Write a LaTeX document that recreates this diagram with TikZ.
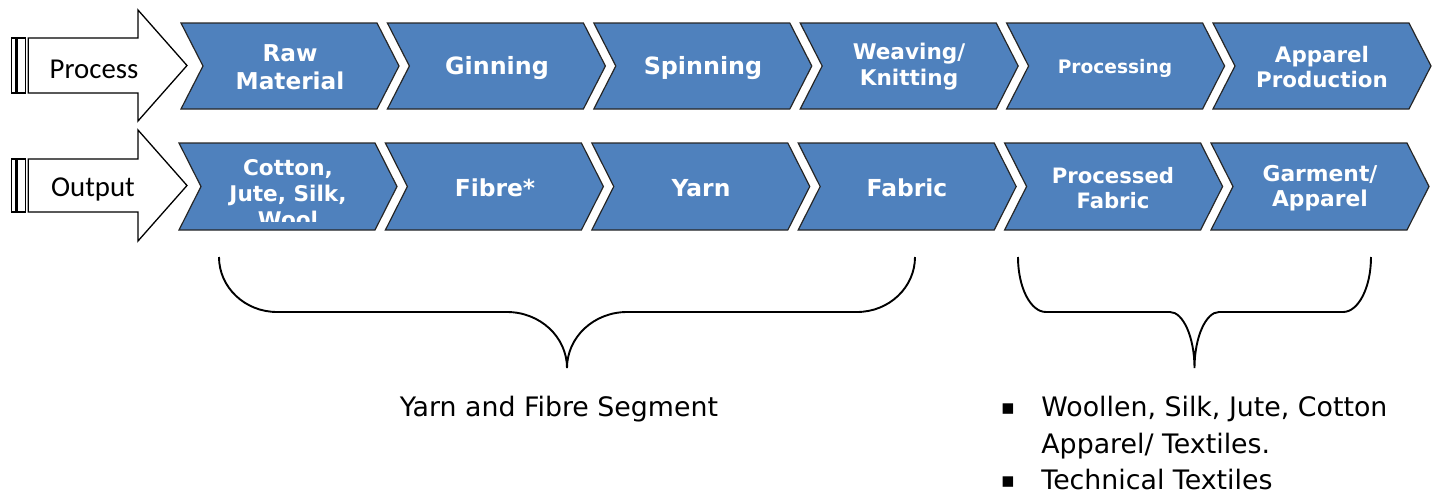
\documentclass[tikz,border=0pt]{standalone}
\usepackage{fontspec}
\setmainfont{DejaVu Sans}
\newfontfamily\labelfont{Carlito}
\definecolor{chevblue}{HTML}{4F81BD}
\begin{document}
\begin{tikzpicture}[x=0.5pt,y=-0.5pt,
  chev/.style={fill=chevblue, draw=black!85, line width=0.6pt, line join=miter},
  chevtext/.style={text=white, align=center, inner sep=0pt},
  bigarrow/.style={fill=white, draw=black, line width=0.65pt, line join=miter},
  sidelabel/.style={inner sep=0pt, font=\labelfont\fontsize{14.4}{17}\selectfont},
  brace/.style={draw=black, line width=0.95pt},
  plain/.style={inner sep=0pt, font=\fontsize{13.4}{16}\selectfont},
  bulletmark/.style={inner sep=0pt, font=\fontsize{10.5}{12}\selectfont}]
\useasboundingbox (0,0) rectangle (1437,493);

% striped block arrows on the left
\draw[bigarrow] (11.7,38) rectangle (16,93);
\draw[bigarrow] (17.3,38) rectangle (25.7,93);
\draw[bigarrow] (28.3,38) -- (138,38) -- (138,10) -- (187,65.5) -- (138,121) -- (138,93) -- (28.3,93) -- cycle;
\node[sidelabel] (process) at (94,69) {Process};

\draw[bigarrow] (11.7,159) rectangle (16,212);
\draw[bigarrow] (17.3,159) rectangle (25.7,212);
\draw[bigarrow] (28.3,159) -- (138,159) -- (138,130) -- (187,185.5) -- (138,241) -- (138,212) -- (28.3,212) -- cycle;
\node[sidelabel] (output) at (93,189) {Output};

% chevron rows
\foreach \L in {181,387.4,593.8,800.2,1006.6,1213}
  \path[chev] (\L,23) -- (\L+196,23) -- (\L+218,66) -- (\L+196,109) -- (\L,109) -- (\L+22,66) -- cycle;
\foreach \L in {179,385.4,591.8,798.2,1004.6,1211}
  \path[chev] (\L,143) -- (\L+196,143) -- (\L+218,186.5) -- (\L+196,230) -- (\L,230) -- (\L+22,186.5) -- cycle;

% process row labels
\node[chevtext, font=\bfseries\fontsize{11.6}{14}\selectfont] (p1) at (290,67) {Raw\\Material};
\node[chevtext, font=\bfseries\fontsize{11.9}{14}\selectfont] (p2) at (497,68) {Ginning};
\node[chevtext, font=\bfseries\fontsize{11.9}{14}\selectfont] (p3) at (703,68) {Spinning};
\node[chevtext, font=\bfseries\fontsize{10.8}{13}\selectfont] (p4) at (909,67) {Weaving/\\Knitting};
\node[chevtext, font=\bfseries\fontsize{9.3}{11}\selectfont] (p5) at (1115,68) {Processing};
\node[chevtext, font=\bfseries\fontsize{10.7}{12.8}\selectfont] (p6) at (1322,67) {Apparel\\Production};

% output row labels
\begin{scope}
  \clip (201,150) rectangle (375,221);
  \node[chevtext, font=\bfseries\fontsize{10.8}{13}\selectfont, anchor=north] (o1) at (288,159) {Cotton,\\Jute, Silk,\\Wool};
\end{scope}
\node[chevtext, font=\bfseries\fontsize{11.7}{14}\selectfont] (o2) at (495,188) {Fibre*};
\node[chevtext, font=\bfseries\fontsize{11.7}{14}\selectfont] (o3) at (701,188) {Yarn};
\node[chevtext, font=\bfseries\fontsize{11.7}{14}\selectfont] (o4) at (907,188) {Fabric};
\node[chevtext, font=\bfseries\fontsize{10.6}{12.4}\selectfont] (o5) at (1113,188) {Processed\\Fabric};
\node[chevtext, font=\bfseries\fontsize{10.9}{12.4}\selectfont] (o6) at (1320,188) {Garment/\\Apparel};

% braces grouping the stages
\draw[brace] (219,257) .. controls (219,287.4) and (245,312) .. (277,312) -- (507,312)
  .. controls (540,312) and (567,337) .. (567,368)
  .. controls (567,337) and (594,312) .. (627,312) -- (857,312)
  .. controls (889,312) and (915,287.4) .. (915,257);
\draw[brace] (1018,257) .. controls (1018,287.4) and (1030.5,312) .. (1046,312) -- (1170,312)
  .. controls (1183,312) and (1194.5,337) .. (1194.5,368)
  .. controls (1194.5,337) and (1206,312) .. (1219,312) -- (1343,312)
  .. controls (1358.5,312) and (1371,287.4) .. (1371,257);

% segment captions
\node[plain, anchor=base] (yarnseg) at (559,416) {Yarn and Fibre Segment};
\node[bulletmark] (b1) at (1008,409) {▪};
\node[plain, anchor=base west] (t1) at (1041,416) {Woollen, Silk, Jute, Cotton};
\node[plain, anchor=base west] (t2) at (1041,453) {Apparel/ Textiles.};
\node[bulletmark] (b2) at (1008,482) {▪};
\node[plain, anchor=base west, text depth=0pt] (t3) at (1041,489) {Technical Textiles};
\end{tikzpicture}
\end{document}
